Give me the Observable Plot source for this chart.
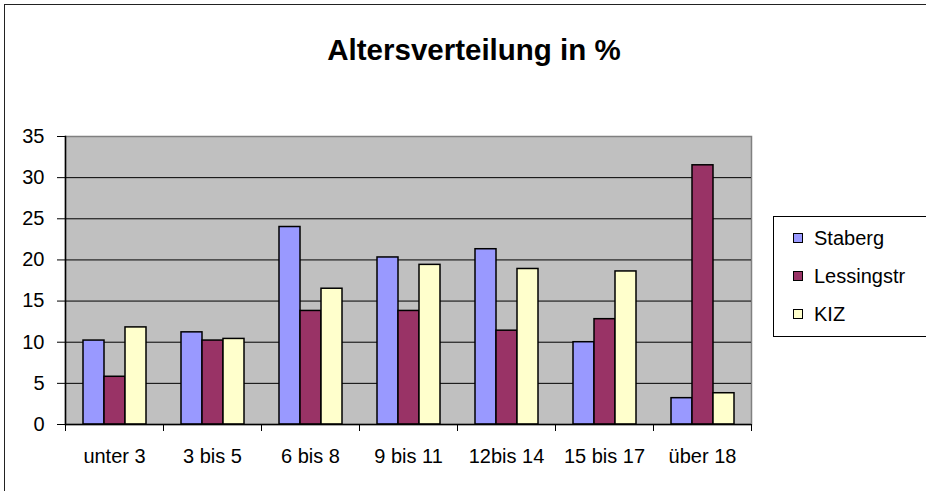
<!DOCTYPE html>
<html><head><meta charset="utf-8">
<script src="https://cdn.jsdelivr.net/npm/d3@7"></script>
<script src="https://cdn.jsdelivr.net/npm/@observablehq/plot@0.6"></script>
<style>
html,body{margin:0;padding:0;background:#fff;overflow:hidden;width:926px;height:491px;font-family:"Liberation Sans",Arial,sans-serif;color:#000}
#border{position:absolute;left:4px;top:4px;width:1000px;height:600px;border:1px solid #222;box-sizing:border-box}
#chart{position:absolute;left:0;top:0}
#title{position:absolute;left:0;width:948px;top:35px;text-align:center;font-weight:bold;font-size:29.5px;line-height:1}
#legend{position:absolute;left:773px;top:216px;width:300px;height:121px;border:1px solid #000;box-sizing:border-box}
.item{position:absolute;left:0;height:20px;font-size:20px;line-height:20px;white-space:nowrap}
.sw{position:absolute;left:19px;top:5px;width:10px;height:10px;border:1px solid #000;box-sizing:border-box}
.lab{position:absolute;left:40px;top:0}
</style>
</head><body>
<div id="border"></div>
<div id="chart"></div>
<div id="title">Altersverteilung in %</div>
<div id="legend"></div>
<script>
const categories = ["unter 3", "3 bis 5", "6 bis 8", "9 bis 11", "12bis 14", "15 bis 17", "über 18"];
const series = ["Staberg", "Lessingstr", "KIZ"];
const staberg    = [10.2, 11.2, 24.0, 20.3, 21.3, 10.0, 3.2];
const lessingstr = [5.8, 10.2, 13.8, 13.8, 11.4, 12.8, 31.5];
const kiz        = [11.8, 10.4, 16.5, 19.4, 18.9, 18.6, 3.8];
const yTicks = [0, 5, 10, 15, 20, 25, 30, 35];
const seriesColors = ["#9999FF", "#993366", "#FFFFCC"];

const values = [staberg, lessingstr, kiz];
const data = categories.flatMap((c, i) => series.map((s, j) => ({category: c, series: s, value: values[j][i]})));

const W = 926, H = 491, mt = 136, mb = 67, ml = 64, mr = 175;
const plotH = H - mt - mb;

const chart = Plot.plot({
  width: W, height: H, marginLeft: ml, marginRight: mr, marginTop: mt, marginBottom: mb,
  style: {fontFamily: "'Liberation Sans', Arial, sans-serif", fontSize: "20px", color: "#000", background: "transparent", overflow: "visible"},
  fx: {domain: categories, padding: 0, label: null},
  x: {domain: series, paddingInner: 0, paddingOuter: 0.75, axis: null},
  y: {domain: [0, 35], label: null},
  color: {domain: series, range: seriesColors},
  marks: [
    Plot.frame({facet: "super", fill: "#C0C0C0", stroke: "#808080", strokeWidth: 1.5}),
    Plot.ruleY(yTicks.filter(t => t > 0 && t < 35), {stroke: "#000", strokeWidth: 1}),
    Plot.barY(data, {fx: "category", x: "series", y: "value", fill: "series", stroke: "#000", strokeWidth: 1.5}),
    Plot.frame({facet: "super", anchor: "left", stroke: "#000", strokeWidth: 1.5}),
    Plot.ruleY([0], {stroke: "#000", strokeWidth: 1.5}),
    Plot.frame({anchor: "left", insetTop: plotH, insetBottom: -6, stroke: "#000"}),
    Plot.frame({anchor: "right", insetTop: plotH, insetBottom: -6, stroke: "#000"}),
    Plot.axisY({ticks: yTicks, tickSize: 8, tickPadding: 13, fontSize: 20, label: null}),
    Plot.axisFx({anchor: "bottom", tickSize: 0, tickPadding: 24, fontSize: 20, label: null})
  ]
});
document.getElementById("chart").appendChild(chart);

const legend = document.getElementById("legend");
series.forEach((s, j) => {
  const item = document.createElement("div");
  item.className = "item";
  item.style.top = (11 + j * 38) + "px";
  const sw = document.createElement("div");
  sw.className = "sw";
  sw.style.background = seriesColors[j];
  const lab = document.createElement("div");
  lab.className = "lab";
  lab.textContent = s;
  item.appendChild(sw); item.appendChild(lab);
  legend.appendChild(item);
});
</script>
</body></html>
